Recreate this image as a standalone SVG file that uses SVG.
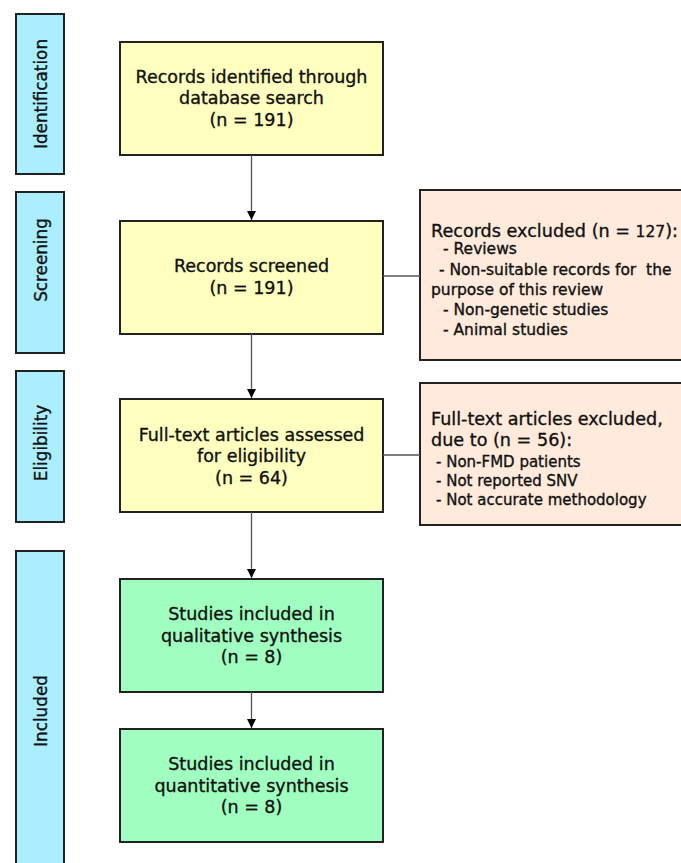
<svg xmlns="http://www.w3.org/2000/svg" width="681" height="863" viewBox="0 0 681 863">
<style>
.phase{fill:#aaeeff;stroke:#222;stroke-width:2}
.main{fill:#ffffc0;stroke:#222;stroke-width:2}
.incl{fill:#a0ffc0;stroke:#222;stroke-width:2}
.excl{fill:#ffeadc;stroke:#222;stroke-width:2}
text{font-family:"DejaVu Sans",sans-serif;fill:#111;stroke:#111;stroke-width:0.35}
.c{font-size:17.5px;text-anchor:middle}
.p{font-size:16.8px;text-anchor:middle}
.h{font-size:17.6px}
.l{font-size:15.5px}
.m{font-size:15px}
.conn{stroke:#555;stroke-width:1.3;fill:none}
</style>
<defs>
<marker id="ah" markerWidth="10" markerHeight="10" refX="9" refY="4.5" orient="auto" markerUnits="userSpaceOnUse">
<path d="M0,0 L9,4.5 L0,9 Z" fill="#000"/>
</marker>
</defs>
<g id="phase-identification"><rect class="phase" x="16" y="14" width="48" height="160"/><text class="p" transform="translate(47,94) rotate(-90)">Identification</text></g>
<g id="phase-screening"><rect class="phase" x="16" y="192" width="48" height="161"/><text class="p" transform="translate(47,260) rotate(-90)">Screening</text></g>
<g id="phase-eligibility"><rect class="phase" x="16" y="371" width="48" height="151"/><text class="p" transform="translate(47,443) rotate(-90)">Eligibility</text></g>
<g id="phase-included"><rect class="phase" x="16" y="551" width="48" height="330"/><text class="p" transform="translate(47,711) rotate(-90)">Included</text></g>

<g id="identified"><rect class="main" x="120" y="42" width="263" height="113"/>
<text class="c" x="251.5" y="83">Records identified through</text>
<text class="c" x="251.5" y="104">database search</text>
<text class="c" x="251.5" y="126">(n = 191)</text></g>

<g id="screened"><rect class="main" x="120" y="221" width="263" height="113"/>
<text class="c" x="251.5" y="272">Records screened</text>
<text class="c" x="251.5" y="294">(n = 191)</text></g>

<g id="assessed"><rect class="main" x="120" y="399" width="263" height="113"/>
<text class="c" x="251.5" y="441">Full-text articles assessed</text>
<text class="c" x="251.5" y="462">for eligibility</text>
<text class="c" x="251.5" y="484">(n = 64)</text></g>

<g id="qualitative"><rect class="incl" x="120" y="579" width="263" height="113"/>
<text class="c" x="251.5" y="620">Studies included in</text>
<text class="c" x="251.5" y="642">qualitative synthesis</text>
<text class="c" x="251.5" y="663">(n = 8)</text></g>

<g id="quantitative"><rect class="incl" x="120" y="729" width="263" height="113"/>
<text class="c" x="251.5" y="770">Studies included in</text>
<text class="c" x="251.5" y="792">quantitative synthesis</text>
<text class="c" x="251.5" y="813">(n = 8)</text></g>

<g id="excluded-records"><rect class="excl" x="420" y="190" width="275" height="170"/>
<text class="h" x="431" y="237">Records excluded (n = <tspan font-size="15.5">127</tspan>):</text>
<text class="l" x="443" y="254">- Reviews</text>
<text class="l" x="439" y="275" xml:space="preserve">- Non-suitable records for  the</text>
<text class="l" x="431" y="295">purpose of this review</text>
<text class="l" x="443" y="315">- Non-genetic studies</text>
<text class="l" x="443" y="335">- Animal studies</text></g>

<g id="excluded-fulltext"><rect class="excl" x="420" y="383" width="275" height="142"/>
<text class="h" x="431" y="425">Full-text articles excluded,</text>
<text class="h" x="431" y="446">due to (n = 56):</text>
<text class="m" x="436" y="467">- Non-FMD patients</text>
<text class="m" x="436" y="486">- Not reported SNV</text>
<text class="m" x="436" y="505">- Not accurate methodology</text></g>

<g id="connectors">
<line class="conn" x1="251.5" y1="155" x2="251.5" y2="220" marker-end="url(#ah)"/>
<line class="conn" x1="251.5" y1="334" x2="251.5" y2="398" marker-end="url(#ah)"/>
<line class="conn" x1="251.5" y1="512" x2="251.5" y2="578" marker-end="url(#ah)"/>
<line class="conn" x1="251.5" y1="692" x2="251.5" y2="728" marker-end="url(#ah)"/>
<line class="conn" x1="383" y1="276" x2="420" y2="276"/>
<line class="conn" x1="383" y1="455" x2="420" y2="455"/>
</g>
</svg>
